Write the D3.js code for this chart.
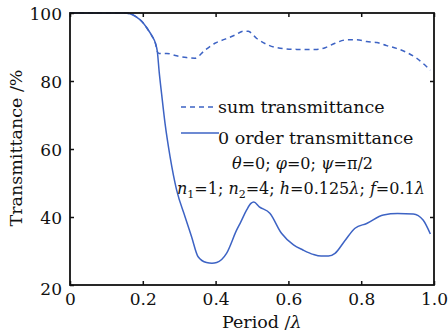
<!DOCTYPE html>
<meta charset="utf-8">
<script src="https://d3js.org/d3.v7.min.js"></script>
<style>
	body{
		margin:0;
		background:#fff;
	}
	text{
		font-family:'DejaVu Serif', serif;
		fill:#111;
	}
</style>
<div id="chart"></div>
<script>
	// zero order transmittance (solid)
	var orderPeriod = [0,0.05,0.1,0.15,0.165,0.18,0.2,0.215,0.225,0.235,0.24,0.245,0.252,0.261,0.275,0.293,0.316,0.334,0.352,0.375,0.39,0.403,0.43,0.458,0.469,0.485,0.497,0.505,0.52,0.549,0.581,0.614,0.64,0.668,0.69,0.71,0.728,0.755,0.783,0.815,0.861,0.9,0.943,0.97,0.99]
	var orderTrans = [100,100,100,100,99.8,99,97.2,95,93.3,91,88.6,82.7,75.9,67.6,57.7,47.9,40.1,34.2,28.3,26.6,26.4,26.6,29.3,36.2,38.5,42,44,44.4,43,41.1,35.2,31.8,30.3,29,28.5,28.5,29.3,33,36.7,38.1,40.6,41,40.9,39.1,35]
	// sum transmittance (dashed)
	var sumPeriod = [0,0.15,0.165,0.18,0.2,0.215,0.225,0.235,0.24,0.245,0.266,0.293,0.32,0.343,0.371,0.398,0.426,0.453,0.478,0.49,0.513,0.54,0.568,0.623,0.673,0.701,0.728,0.76,0.788,0.815,0.843,0.87,0.897,0.925,0.952,0.98,0.99]
	var sumTrans = [100,100,99.8,99,97.2,95,93.3,91,88.6,88.1,88.1,87.4,86.9,86.7,89.1,91.1,92.3,93.5,94.7,94.6,92.5,90.8,89.8,89.3,89.3,89.8,91.1,92.1,92.1,91.6,91.3,90.4,89.6,88.4,86.7,84.2,83.2]

	var xTicks = [0,0.2,0.4,0.6,0.8,1.0]
	var xTickLabels = ["0","0.2","0.4","0.6","0.8","1.0"]
	var yTicks = [20,40,60,80,100]
	var legendLabels = ["sum transmittance","0 order transmittance"]

	var w = 448
	var h = 336
	var padL = 70, padR = 434, padT = 13, padB = 285
	var blue = "#3d63c4"

	var svg = d3.select("#chart").append("svg").attr("width",w).attr("height",h)

	var x = d3.scaleLinear().domain([0,1]).range([padL,padR])
	var y = d3.scaleLinear().domain([20,100]).range([padB,padT])

	var line = d3.line()
		.x(function(d){ return x(d[0]) })
		.y(function(d){ return y(d[1]) })
		.curve(d3.curveMonotoneX)

	var sumData = sumPeriod.map(function(p,i){ return [p,sumTrans[i]] })
	var orderData = orderPeriod.map(function(p,i){ return [p,orderTrans[i]] })

	svg.append("path").attr("d",line(sumData))
		.attr("fill","none").attr("stroke",blue).attr("stroke-width",1.5)
		.attr("stroke-dasharray","5,4")
	svg.append("path").attr("d",line(orderData))
		.attr("fill","none").attr("stroke",blue).attr("stroke-width",1.5)

	// axes, ticks inward on all four sides
	var bottomAxis = d3.axisBottom(x).tickValues(xTicks).tickFormat(function(d,i){ return xTickLabels[i] }).tickSizeInner(-4).tickSizeOuter(0).tickPadding(8)
	var topAxis = d3.axisTop(x).tickValues(xTicks).tickFormat("").tickSizeInner(-4).tickSizeOuter(0)
	var leftAxis = d3.axisLeft(y).tickValues(yTicks).tickSizeInner(-4).tickSizeOuter(0).tickPadding(8)
	var rightAxis = d3.axisRight(y).tickValues([40,80]).tickFormat("").tickSizeInner(-4).tickSizeOuter(0)

	var gb = svg.append("g").attr("transform","translate(0,"+padB+")").call(bottomAxis)
	var gt = svg.append("g").attr("transform","translate(0,"+padT+")").call(topAxis)
	var gl = svg.append("g").attr("transform","translate("+padL+",0)").call(leftAxis)
	var gr = svg.append("g").attr("transform","translate("+padR+",0)").call(rightAxis)

	svg.selectAll(".domain").remove()
	svg.selectAll(".tick line").attr("stroke","#111").attr("stroke-width",1.5)
	svg.selectAll(".tick text").style("font-family","'DejaVu Serif', serif").style("font-size","17px").attr("fill","#111")
	gb.selectAll(".tick text").attr("dy","0.71em")
	gl.selectAll(".tick text").attr("dy","0.38em")
	gl.selectAll(".tick").filter(function(d){ return d==20 }).select("text").attr("dy","0.55em")

	svg.append("rect").attr("x",padL).attr("y",padT).attr("width",padR-padL).attr("height",padB-padT)
		.attr("fill","none").attr("stroke","#111").attr("stroke-width",1.8)

	// axis labels
	svg.append("text").text("Period /").attr("x",222).attr("y",328).style("font-size","17.5px")
		.append("tspan").text("λ").style("font-style","italic")
	svg.append("text").text("Transmittance /%").attr("text-anchor","middle")
		.attr("transform","translate(22,148) rotate(-90)").style("font-size","17.5px")

	// legend
	var lx1 = 181, lx2 = 217
	svg.append("line").attr("x1",lx1).attr("x2",lx2-2).attr("y1",107).attr("y2",107)
		.attr("stroke",blue).attr("stroke-width",1.5).attr("stroke-dasharray","5,4")
	svg.append("line").attr("x1",lx1).attr("x2",lx2+2).attr("y1",133).attr("y2",133)
		.attr("stroke",blue).attr("stroke-width",1.5)
	svg.append("text").text(legendLabels[0]).attr("x",lx2+1).attr("y",113).style("font-size","17.5px")
	svg.append("text").text(legendLabels[1]).attr("x",lx2+1).attr("y",144).style("font-size","17.5px")

	// parameter lines
	var p1 = svg.append("text").attr("x",232).attr("y",169).style("font-size","16px")
	p1.append("tspan").text("θ").style("font-style","italic")
	p1.append("tspan").text("=0; ")
	p1.append("tspan").text("φ").style("font-style","italic")
	p1.append("tspan").text("=0; ")
	p1.append("tspan").text("ψ").style("font-style","italic")
	p1.append("tspan").text("=π/2")

	var p2 = svg.append("text").attr("x",177).attr("y",194).style("font-size","16px")
	p2.append("tspan").text("n").style("font-style","italic")
	p2.append("tspan").text("1").attr("dy",4).style("font-size","11px")
	p2.append("tspan").text("=1; ").attr("dy",-4)
	p2.append("tspan").text("n").style("font-style","italic")
	p2.append("tspan").text("2").attr("dy",4).style("font-size","11px")
	p2.append("tspan").text("=4; ").attr("dy",-4)
	p2.append("tspan").text("h").style("font-style","italic")
	p2.append("tspan").text("=0.125")
	p2.append("tspan").text("λ").style("font-style","italic")
	p2.append("tspan").text("; ")
	p2.append("tspan").text("f").style("font-style","italic")
	p2.append("tspan").text("=0.1")
	p2.append("tspan").text("λ").style("font-style","italic")
</script>
